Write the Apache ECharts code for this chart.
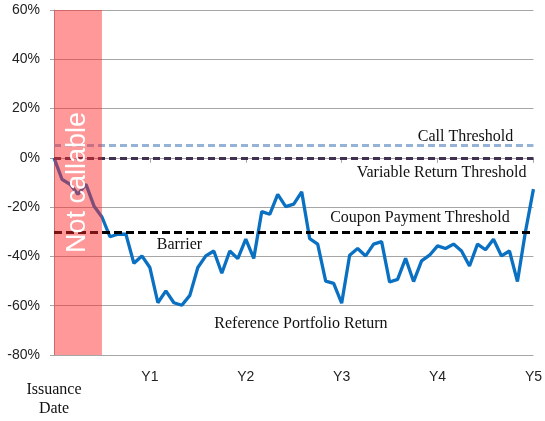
<!DOCTYPE html>
<html>
<head>
<meta charset="utf-8">
<script src="https://cdn.jsdelivr.net/npm/echarts@6/dist/echarts.min.js"></script>
<style>
  html, body { margin: 0; padding: 0; background: #fff; }
  #chart { width: 545px; height: 421px; }
</style>
</head>
<body>
<div id="chart"></div>
<script>
// monthly reference portfolio return (%), month 0 = issuance, month 60 = Y5
const portfolioReturn = [
  0, -8.7, -10.7, -14.8, -10.7, -19.5, -24, -32, -31, -31, -42.8, -39.8,
  -44.5, -58.8, -54, -58.8, -59.8, -55.8, -44.5, -39.8, -37.8, -46.8, -37.8, -40.9,
  -33, -40.8, -21.8, -22.9, -14.8, -19.8, -18.8, -13.8, -32.8, -35, -50, -50.9,
  -59, -39.5, -36.8, -39.8, -35, -34, -50.4, -49.3, -40.8, -50.2, -41.8, -39.5,
  -35.7, -36.8, -35, -37.8, -43.9, -35, -37.3, -33, -39.8, -37.8, -50.2, -30,
  -12.7
];

const tickMonths = [0, 12, 24, 36, 48, 60];
const tickLabels = ['Issuance\nDate', 'Y1', 'Y2', 'Y3', 'Y4', 'Y5'];

const thresholdNames = ['Call Threshold', 'Variable Return Threshold', 'Coupon Payment Threshold'];
const thresholdValues = [5, 0, -30];
const thresholdColors = ['#95b3d7', '#403152', '#000000'];

const noCallMonths = [0, 6];

const annotationText = ['Call Threshold', 'Variable Return Threshold', 'Coupon Payment Threshold', 'Barrier', 'Reference Portfolio Return'];
const annotationX = [51.5, 48.5, 45.8, 15.7, 30.9];
const annotationY = [8.5, -6.1, -24.3, -35.3, -67.3];

const chart = echarts.init(document.getElementById('chart'));

const serif = 'Liberation Serif, Times New Roman, serif';
const sans = 'Liberation Sans, Arial, sans-serif';

const opts = {
  animation: false,
  grid: { left: 54, right: 10, top: 10, bottom: 66 },
  xAxis: {
    type: 'value',
    min: 0,
    max: 60,
    interval: 12,
    splitLine: { show: false },
    axisLine: { lineStyle: { color: '#a6a6a6', width: 1 } },
    axisTick: { show: true, length: 5, lineStyle: { color: '#a6a6a6' } },
    axisLabel: {
      margin: 15,
      color: '#222',
      fontFamily: sans,
      fontSize: 14,
      formatter: (v) => {
        const i = tickMonths.indexOf(v);
        if (i < 0) return '';
        if (i === 0) {
          return '{sp| }\n' + tickLabels[0].split('\n').map((t) => `{d|${t}}`).join('\n');
        }
        return tickLabels[i];
      },
      rich: {
        sp: { lineHeight: 10, fontSize: 1 },
        d: { fontFamily: serif, fontSize: 16, lineHeight: 19, color: '#111' },
      },
    },
  },
  yAxis: {
    type: 'value',
    min: -80,
    max: 60,
    interval: 20,
    axisLine: { show: true, lineStyle: { color: '#a6a6a6' } },
    axisTick: { show: true, length: 4, lineStyle: { color: '#a6a6a6' } },
    splitLine: { lineStyle: { color: '#a6a6a6', width: 1 } },
    axisLabel: {
      margin: 14,
      color: '#222',
      fontFamily: sans,
      fontSize: 14,
      formatter: '{value}%',
    },
  },
  series: [
    {
      name: 'Reference Portfolio Return',
      type: 'line',
      z: 3,
      data: portfolioReturn.map((v, i) => [i, v]),
      symbol: 'none',
      lineStyle: { color: '#0a70c2', width: 3.3 },
      markLine: {
        silent: true,
        symbol: ['none', 'none'],
        label: { show: false },
        data: thresholdValues.map((v, i) => ({
          name: thresholdNames[i],
          yAxis: v,
          lineStyle: {
            color: thresholdColors[i],
            width: 3,
            type: i === 2 ? [8, 4] : [7, 4],
          },
        })),
      },
      markPoint: {
        silent: true,
        symbol: 'circle',
        symbolSize: 1,
        itemStyle: { color: 'rgba(0,0,0,0)' },
        label: {
          show: true,
          position: 'inside',
          formatter: '{b}',
          fontFamily: serif,
          fontSize: 16,
          color: '#111',
        },
        data: annotationText.map((t, i) => ({ name: t, coord: [annotationX[i], annotationY[i]] })),
      },
    },
    {
      name: 'Not callable',
      type: 'line',
      data: [],
      markArea: {
        silent: true,
        z: 10,
        itemStyle: { color: 'rgba(255, 40, 40, 0.48)' },
        label: {
          show: true,
          position: 'inside',
          rotate: 90,
          color: '#fff',
          fontFamily: sans,
          fontSize: 27,
        },
        data: [[
          { name: 'Not callable', xAxis: noCallMonths[0], yAxis: -80 },
          { xAxis: noCallMonths[1], yAxis: 60 },
        ]],
      },
    },
  ],
};

chart.setOption(opts);
</script>
</body>
</html>
